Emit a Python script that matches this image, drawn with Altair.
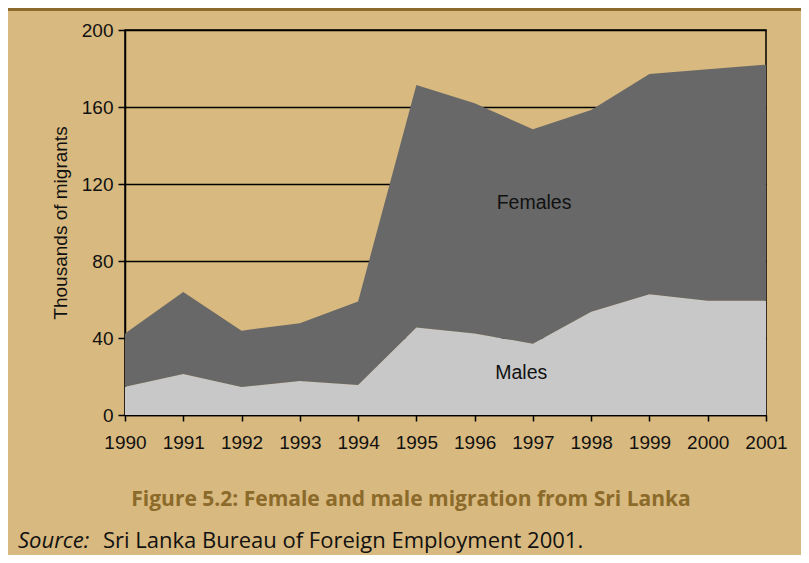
import altair as alt
import pandas as pd

years = list(range(1990, 2002))
males = [14.7, 21.3, 14.5, 17.7, 15.6, 45.5, 42.4, 37.0, 53.7, 62.7, 59.4, 59.4]
females = [27.7, 42.6, 29.3, 29.9, 43.4, 125.9, 119.5, 111.4, 104.7, 114.4, 120.2, 122.6]
series = ["Males", "Females"]
colors = ["#C8C8C8", "#686868"]
y_ticks = [0, 40, 80, 120, 160, 200]

title_text = "Figure 5.2: Female and male migration from Sri Lanka"
source_label = "Source:"
source_text = "Sri Lanka Bureau of Foreign Employment 2001."

BG = "#D8B97F"

df = pd.DataFrame({
    "Year": years * 2,
    "Sex": ["Males"] * len(years) + ["Females"] * len(years),
    "Value": males + females,
    "ord": [0] * len(years) + [1] * len(years),
})

area = alt.Chart(df).mark_area(interpolate="linear").encode(
    x=alt.X("Year:Q",
            scale=alt.Scale(domain=[1990, 2001], nice=False, zero=False),
            axis=alt.Axis(values=years, format="d", title=None, grid=False,
                          tickSize=6, labelPadding=12, labelOverlap=False, labelFlush=False)),
    y=alt.Y("Value:Q", stack="zero",
            scale=alt.Scale(domain=[0, 200], nice=False),
            axis=alt.Axis(values=y_ticks, title="Thousands of migrants", grid=True,
                          tickSize=7, labelPadding=5, titlePadding=11, labelOverlap=False)),
    color=alt.Color("Sex:N", scale=alt.Scale(domain=series, range=colors), legend=None),
    order=alt.Order("ord:Q"),
)

labels_df = pd.DataFrame({"Year": [1997.02, 1996.8], "Value": [110, 21.8], "t": ["Females", "Males"]})
labels = alt.Chart(labels_df).mark_text(font="Liberation Sans", fontSize=19.5, color="#111111").encode(
    x="Year:Q", y="Value:Q", text="t:N")

border = alt.Chart(pd.DataFrame({"a": [0]})).mark_rule(color="#8C6A2B", strokeWidth=3).encode(
    x=alt.value(-130), x2=alt.value(700), y=alt.value(-20.5))

title = alt.Chart(pd.DataFrame({"t": [title_text]})).mark_text(
    font="Open Sans", fontWeight="bold", fontSize=21, color="#8B6A2A", align="center", baseline="middle"
).encode(text="t:N", x=alt.value(286), y=alt.value(470))

src1 = alt.Chart(pd.DataFrame({"t": [source_label]})).mark_text(
    font="Open Sans", fontStyle="italic", fontSize=22, color="#111111", align="left", baseline="middle"
).encode(text="t:N", x=alt.value(-107), y=alt.value(511))

src2 = alt.Chart(pd.DataFrame({"t": [source_text]})).mark_text(
    font="Open Sans", fontSize=22, color="#111111", align="left", baseline="middle"
).encode(text="t:N", x=alt.value(-22), y=alt.value(511))

chart = alt.layer(area, labels, border, title, src1, src2).properties(
    width=641, height=385,
    padding={"left": 117, "top": 22, "right": 35, "bottom": 140},
    autosize=alt.AutoSizeParams(type="none"),
    background=BG,
).configure_view(stroke="black", strokeWidth=1.5).configure_axis(
    labelFont="Liberation Sans", labelFontSize=19, labelColor="#111111",
    titleFont="Liberation Sans", titleFontSize=19, titleColor="#111111", titleFontWeight="normal",
    tickColor="black", domainColor="black", domainWidth=1.5, tickWidth=1.5,
    gridColor="black", gridWidth=1.5,
)

chart.save("out.html", embed_options={"renderer": "svg", "actions": False})
